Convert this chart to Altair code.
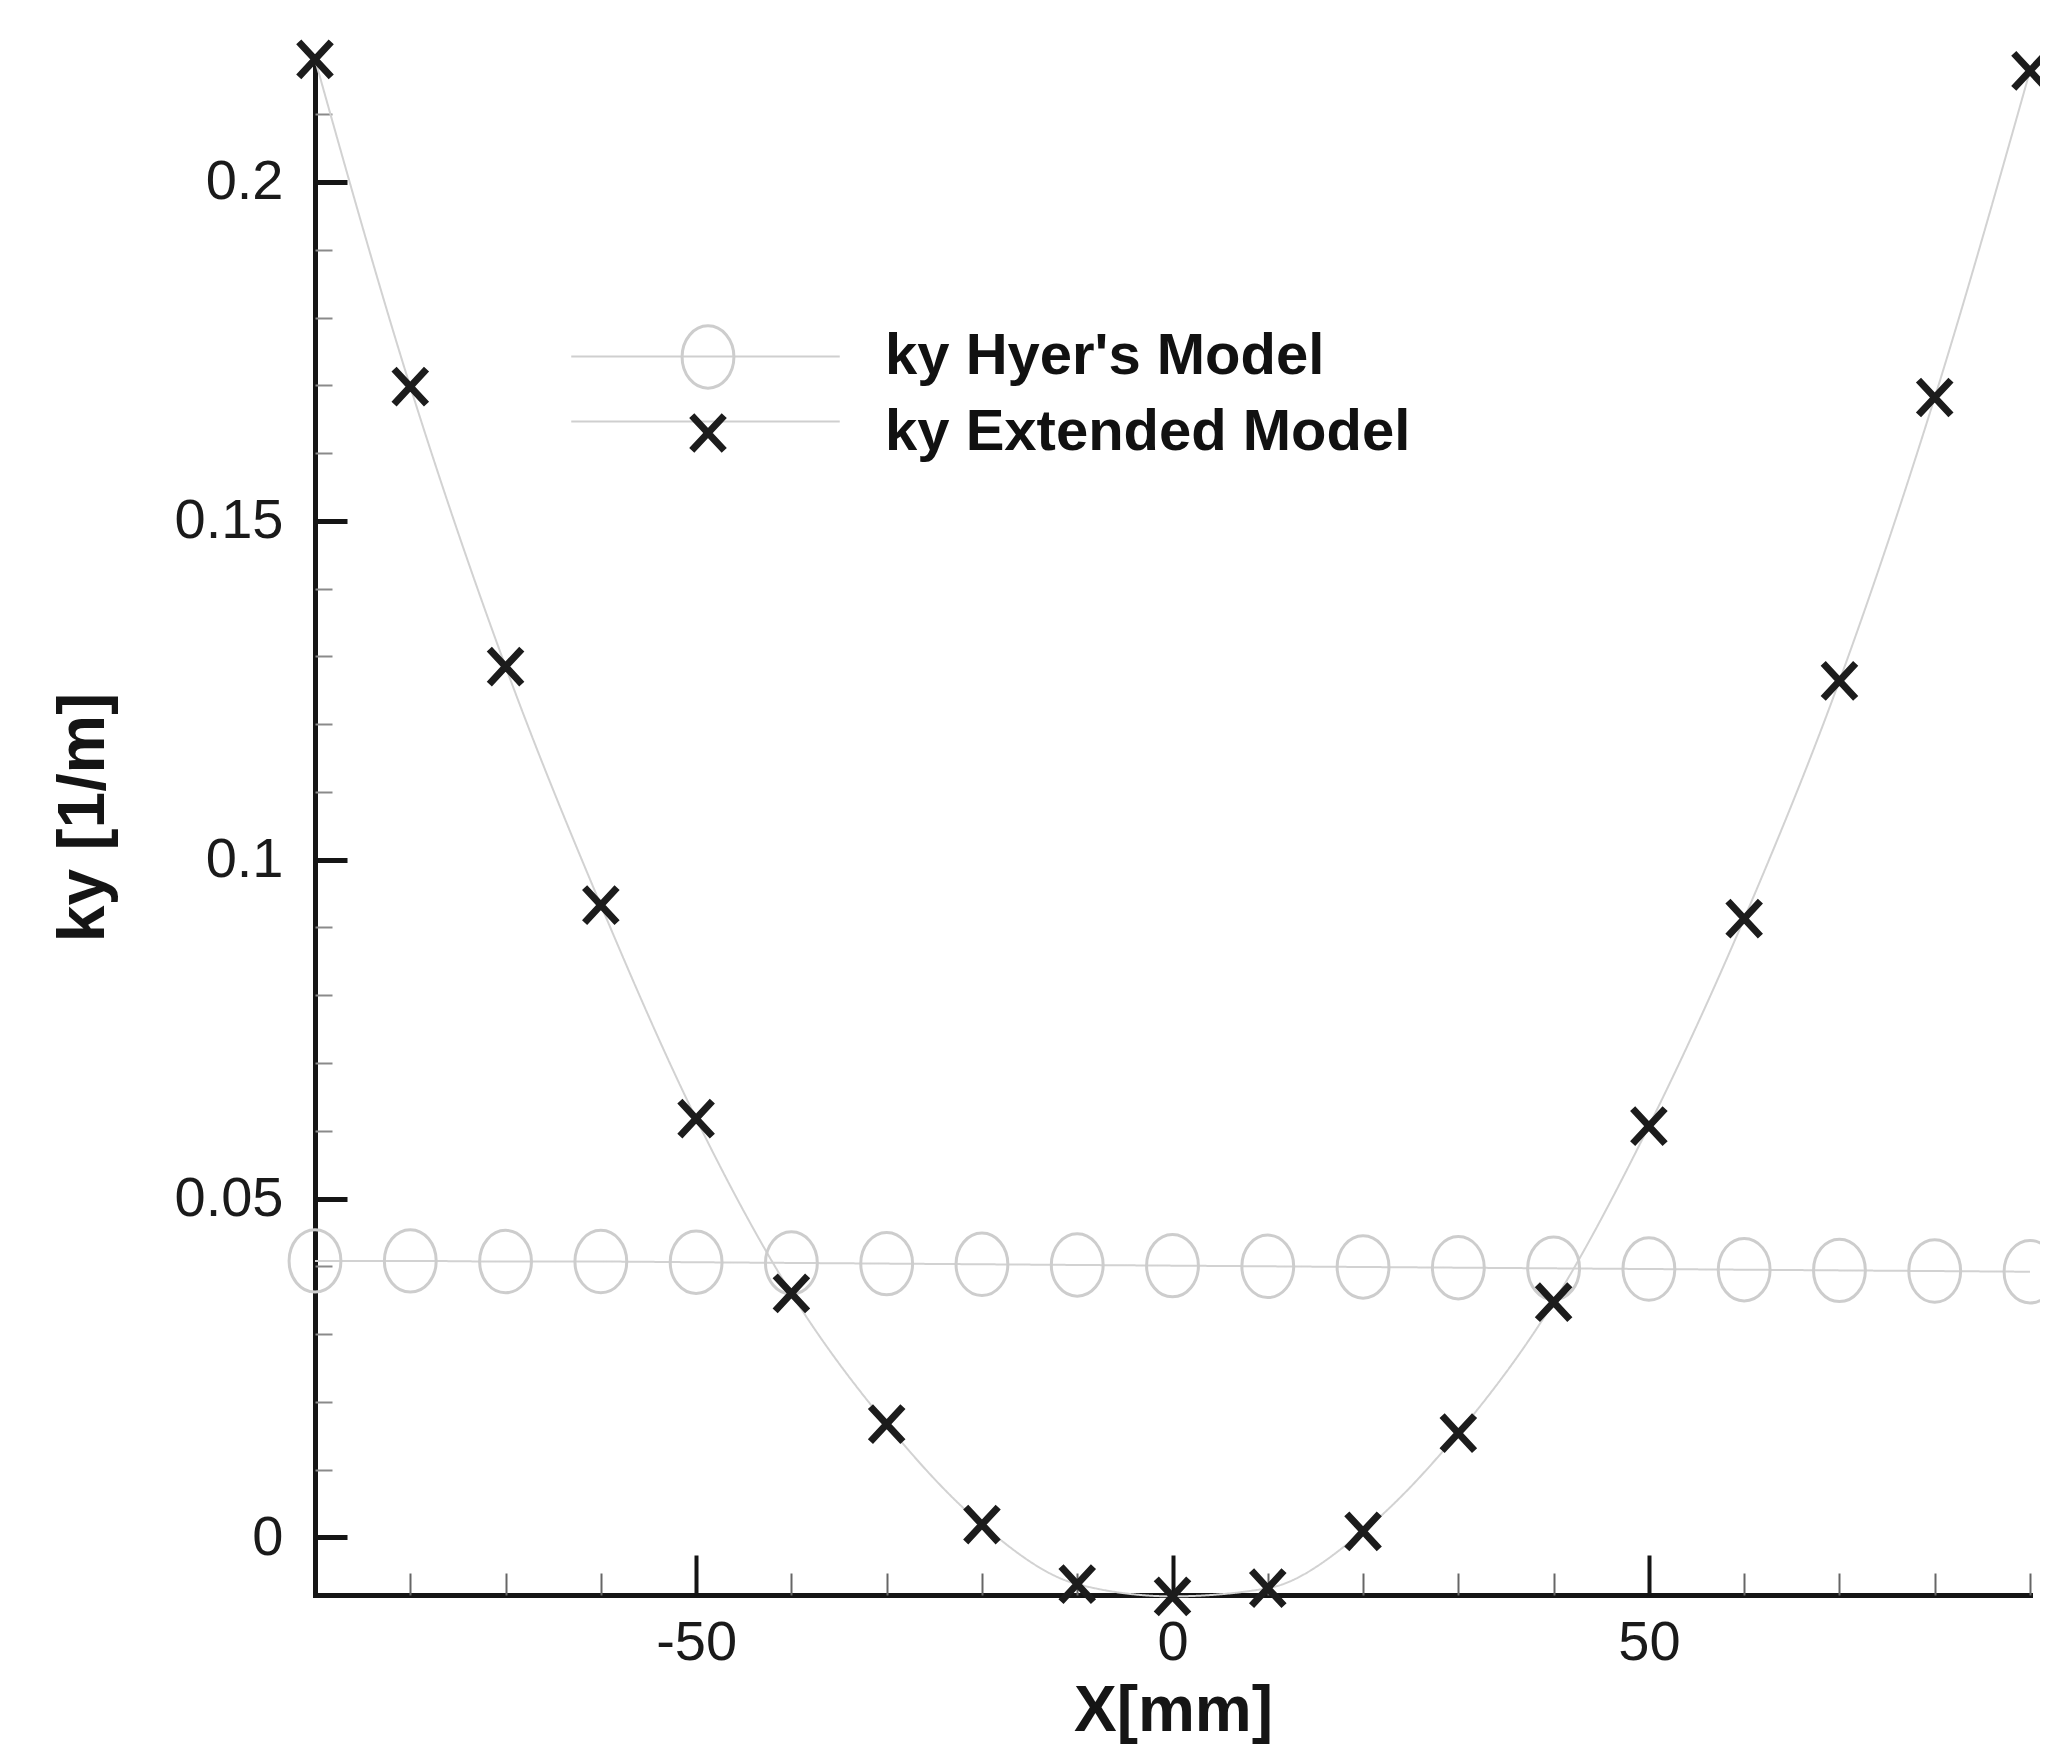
import altair as alt
import pandas as pd

# ---- data ----
x_mm = [-90, -80, -70, -60, -50, -40, -30, -20, -10, 0, 10, 20, 30, 40, 50, 60, 70, 80, 90]
ky_hyer = [0.0408, 0.0408, 0.0407, 0.0407, 0.0406, 0.0405, 0.0404, 0.0403, 0.0402, 0.0401,
           0.0400, 0.0399, 0.0398, 0.0397, 0.0396, 0.0395, 0.0394, 0.0393, 0.0392]
ky_extended = [0.2181, 0.1698, 0.1285, 0.0933, 0.0618, 0.0360, 0.0167, 0.0019, -0.0069, -0.0087,
               -0.0075, 0.0009, 0.0154, 0.0347, 0.0607, 0.0913, 0.1264, 0.1682, 0.2164]

series_names = ["ky Hyer's Model", "ky Extended Model"]
line_names = ["Hyer line", "Extended line"]

x_major = [-50, 0, 50]
x_minor = [-90, -80, -70, -60, -40, -30, -20, -10, 10, 20, 30, 40, 60, 70, 80, 90]
y_major = [0, 0.05, 0.1, 0.15, 0.2]
y_minor = [0.01, 0.02, 0.03, 0.04, 0.06, 0.07, 0.08, 0.09, 0.11, 0.12, 0.13, 0.14,
           0.16, 0.17, 0.18, 0.19, 0.21]

rows = []
for xv, hv, ev in zip(x_mm, ky_hyer, ky_extended):
    rows.append({"x": xv, "y": hv, "series": series_names[0], "line": line_names[0]})
    rows.append({"x": xv, "y": ev, "series": series_names[1], "line": line_names[1]})
df = pd.DataFrame(rows)

FONT = "Liberation Sans, Arial, Helvetica, sans-serif"
W, H = 1715, 1535

xscale = alt.Scale(domain=[-90, 90], nice=False, zero=False)
yscale = alt.Scale(domain=[-0.0085, 0.218], nice=False, zero=False)

ellipse = "M0.83,0 A0.83,1 0 1,1 -0.83,0 A0.83,1 0 1,1 0.83,0 Z"
xcross = "M-0.52,-0.56 L0.52,0.56 M-0.52,0.56 L0.52,-0.56"

legend_common = dict(
    orient="none", legendX=358, legendY=264, title=None,
    symbolSize=3900, labelFontSize=58, labelFont=FONT, labelFontWeight="bold",
    labelOffset=142, rowPadding=3, labelLimit=1200, padding=0,
)

base = alt.Chart(df)

lines = base.mark_line(interpolate="monotone", color="#d2d2d2", strokeWidth=2).encode(
    x=alt.X("x:Q", scale=xscale, axis=alt.Axis(
        orient="bottom", values=x_major, labelExpr="datum.value + ''",
        ticks=False, tickSize=0, grid=False,
        domain=True, domainColor="#151515", domainWidth=5, domainCap="square",
        labelFont=FONT, labelFontSize=56, labelColor="#1a1a1a", labelPadding=20,
        title="X[mm]", titleFont=FONT, titleFontSize=64, titleFontWeight="bold",
        titleColor="#151515", titleX=858, titleY=135, titleBaseline="alphabetic",
        titleAlign="center")),
    y=alt.Y("y:Q", scale=yscale, axis=alt.Axis(
        orient="left", values=y_major, labelExpr="datum.value + ''",
        ticks=False, tickSize=0, grid=False,
        domain=True, domainColor="#151515", domainWidth=5, domainCap="square",
        labelFont=FONT, labelFontSize=56, labelColor="#1a1a1a", labelPadding=32,
        title="ky [1/m]", titleFont=FONT, titleFontSize=66, titleFontWeight="bold",
        titleColor="#151515", titleX=-212, titleY=757, titleAngle=270,
        titleBaseline="alphabetic", titleAlign="center")),
    strokeDash=alt.StrokeDash("line:N", scale=alt.Scale(domain=line_names, range=[[1, 0], [1, 0]]),
        legend=alt.Legend(symbolType="M-4.3,0 L4.3,0", symbolStrokeColor="#cfcfcf",
                          symbolStrokeWidth=2, labelExpr="''", **legend_common)),
    detail="series:N",
)

points = base.mark_point(filled=False, opacity=1).encode(
    x=alt.X("x:Q", scale=xscale, axis=alt.Axis(
        orient="bottom", offset=-40, values=x_major, tickSize=40, tickWidth=4,
        tickColor="#151515", labels=False, domain=False, grid=False, title=None)),
    y=alt.Y("y:Q", scale=yscale, axis=alt.Axis(
        orient="left", offset=-32, values=y_major, tickSize=32, tickWidth=5,
        tickColor="#151515", labels=False, domain=False, grid=False, title=None)),
    shape=alt.Shape("series:N", scale=alt.Scale(domain=series_names, range=[ellipse, xcross]),
        legend=alt.Legend(symbolStrokeWidth=5, labelColor="#111111", **legend_common)),
    color=alt.Color("series:N", scale=alt.Scale(domain=series_names, range=["#cdcdcd", "#1c1c1c"])),
    strokeWidth=alt.StrokeWidth("series:N", scale=alt.Scale(domain=series_names, range=[3, 7]), legend=None),
    size=alt.value(3900),
)

minor = base.mark_point(opacity=0).encode(
    x=alt.X("x:Q", scale=xscale, axis=alt.Axis(
        orient="bottom", offset=-22, values=x_minor, tickSize=22, tickWidth=2,
        tickColor="#666666", labels=False, domain=False, grid=False, title=None)),
    y=alt.Y("y:Q", scale=yscale, axis=alt.Axis(
        orient="left", offset=-17, values=y_minor, tickSize=17, tickWidth=2,
        tickColor="#8a8a8a", labels=False, domain=False, grid=False, title=None)),
)

chart = alt.layer(lines, points, minor).resolve_axis(
    x="independent", y="independent"
).properties(
    width=W, height=H,
    autosize=alt.AutoSizeParams(type="none"),
    padding={"left": 307, "top": 52, "right": 10, "bottom": 160},
    background="white",
).configure_view(stroke=None)

chart.save("out.html", embed_options={"renderer": "svg", "actions": False})
